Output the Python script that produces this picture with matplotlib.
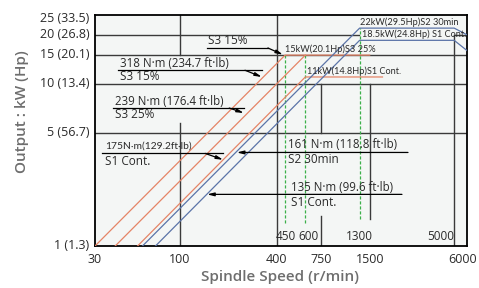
import matplotlib
matplotlib.use("Agg")
import matplotlib.pyplot as plt
import matplotlib.transforms as mtransforms

# axis ticks
x_ticks = [30, 100, 400, 750, 1500, 6000]
x_tick_labels = ["30", "100", "400", "750", "1500", "6000"]
y_ticks = [1, 5, 10, 15, 20, 25]
y_tick_labels = ["1 (1.3)", "5 (56.7)", "10 (13.4)", "15 (20.1)", "20 (26.8)", "25 (33.5)"]

# output curves: spindle speed (r/min) and output (kW)
s3_15_speed = [30, 450, 1500]
s3_15_kw = [1, 15, 15]
s3_25_speed = [40, 600]
s3_25_kw = [1, 15]
s1_small_speed = [55, 600, 1800]
s1_small_kw = [1, 11, 11]
s2_30_speed = [59, 1300, 5000, 6000]
s2_30_kw = [1, 22, 22, 20]
s1_large_speed = [71, 1300, 5000, 6000]
s1_large_kw = [1, 18.5, 18.5, 16]

# base speeds (green dashed)
base_speed = [450, 600, 1300]
base_top_kw = [15, 15, 22]
base_bottom_kw = [1.39, 1.39, 1.47]
inner_speed_labels = ["450", "600", "1300", "5000"]
inner_speed_pos = [455, 625, 1300, 5000]

# power limit labels
power_labels = ["15kW(20.1Hp)S3 25%", "11kW(14.8Hp)S1 Cont.",
                "22kW(29.5Hp)S2 30min", "18.5kW(24.8Hp) S1 Cont."]
power_label_speed = [450, 611, 1307, 1340]
power_label_kw = [16.4, 12.0, 23.9, 20.1]

# torque labels: top line, bottom line
torque_top = ["318 N·m (234.7 ft·lb)", "239 N·m (176.4 ft·lb)", "175N·m(129.2ft·lb)",
              "161 N·m (118.8 ft·lb)", "135 N·m (99.6 ft·lb)"]
torque_bottom = ["S3 15%", "S3 25%", "S1 Cont.", "S2 30min", "S1 Cont."]
torque_text_speed = [43, 40, 34.6, 468, 489]
torque_text_kw = [13.3, 7.78, 4.14, 4.2, 2.28]
torque_bottom_kw = [11.1, 6.44, 3.3, 3.43, 1.85]
sep_kw = [12.1, 7.08, 3.72, 3.77, 2.08]
sep_left = [41.6, 38.7, 33.1, 2589, 2376]
sep_right = [254, 203, 144, 2589, 2376]
tip_speed = [323, 250, 186, 226, 148]
tip_kw = [11.0, 6.6, 3.4, 3.77, 2.08]

ORANGE = "#e58466"
BLUE = "#5b74a8"
GREEN = "#3cb04a"
GRID = "#3a3a3a"
BG = "#f4f6f5"
TXT = "#2a2a2a"
FONT = ["Open Sans", "DejaVu Sans"]
NARROW = ["Lato", "DejaVu Sans"]
ARROW = "-|>,head_length=0.4,head_width=0.1"

plt.rcParams["font.family"] = FONT

fig = plt.figure(figsize=(4.79, 2.88), dpi=100)
ax = fig.add_axes([95 / 479, 42 / 288, 372 / 479, 231 / 288])
ax.set_facecolor(BG)
ax.set_xscale("log")
ax.set_yscale("log")
ax.set_xlim(30, 6000)
ax.set_ylim(1, 26.5)

# grid segments
h_grid = [(5, 30, 6000), (10, 30, 6000), (15, 30, 6000), (20, 30, 1280), (20, 5000, 6000)]
v_grid = [(100, 1, 5.75), (100, 15, 26.5), (400, 1, 26.5), (750, 5, 10), (750, 1, 1.53),
          (1500, 1.47, 10), (5000, 1, 20)]
for y, x0, x1 in h_grid:
    ax.plot([x0, x1], [y, y], color=GRID, lw=1.0, zorder=1)
for x, y0, y1 in v_grid:
    ax.plot([x, x], [y0, y1], color=GRID, lw=1.0, zorder=1)

# output curves
ax.plot(s3_15_speed, s3_15_kw, color=ORANGE, lw=0.9, zorder=3)
ax.plot(s3_25_speed, s3_25_kw, color=ORANGE, lw=0.9, zorder=3)
ax.plot(s1_small_speed, s1_small_kw, color=ORANGE, lw=0.9, zorder=3)
ax.plot(s2_30_speed, s2_30_kw, color=BLUE, lw=0.9, zorder=3)
ax.plot(s1_large_speed, s1_large_kw, color=BLUE, lw=0.9, zorder=3)

ax.vlines(base_speed, base_bottom_kw, base_top_kw, colors=GREEN, lw=0.9,
          linestyles=(0, (2.5, 1.5)), zorder=2)
for i, lab in enumerate(inner_speed_labels):
    ha = "right" if lab == "5000" else "center"
    ax.text(inner_speed_pos[i], 1.137, lab, ha=ha, va="center", fontsize=8.5,
            color=TXT, zorder=4)

for i, lab in enumerate(power_labels):
    ax.text(power_label_speed[i], power_label_kw[i], lab, ha="left", va="center",
            fontsize=6.6, family=NARROW, color=TXT, zorder=4)

# torque labels with leader lines
for i in range(len(torque_top)):
    narrow = i == 2
    ax.text(torque_text_speed[i], torque_text_kw[i], torque_top[i], ha="left",
            va="center", fontsize=7.4 if narrow else 8.3, family=NARROW if narrow else FONT,
            color=TXT, zorder=4)
    ax.text(torque_text_speed[i], torque_bottom_kw[i], torque_bottom[i], ha="left",
            va="center", fontsize=8.5, color=TXT, zorder=4)
    ax.plot([sep_left[i], max(sep_right[i], tip_speed[i])],
            [sep_kw[i], sep_kw[i]], color="black", lw=0.9, zorder=4)
    ax.annotate("", xy=(tip_speed[i], tip_kw[i]), xytext=(sep_right[i], sep_kw[i]),
                arrowprops=dict(arrowstyle=ARROW, color="black", lw=0.9,
                                shrinkA=0, shrinkB=0), zorder=5)

# S3 15% pointer at the 15 kW corner
ax.text(150, 18.4, "S3 15%", ha="left", va="center", fontsize=8.5, color=TXT, zorder=4)
ax.plot([148, 352], [16.6, 16.6], color="black", lw=0.9, zorder=4)
ax.annotate("", xy=(436, 15.1), xytext=(352, 16.6),
            arrowprops=dict(arrowstyle=ARROW, color="black", lw=0.9,
                            shrinkA=0, shrinkB=0), zorder=5)

ax.set_xticks(x_ticks)
ax.set_xticklabels(x_tick_labels)
ax.set_yticks(y_ticks)
ax.set_yticklabels(y_tick_labels)
ax.minorticks_off()
ax.tick_params(length=0, labelsize=9, labelcolor=TXT)
ax.tick_params(axis="x", pad=5)
ax.tick_params(axis="y", pad=4)
last = ax.get_xticklabels()[-1]
last.set_horizontalalignment("right")
last.set_transform(last.get_transform() + mtransforms.ScaledTranslation(10 / 100, 0, fig.dpi_scale_trans))
for lab in ax.get_yticklabels():
    lab.set_transform(lab.get_transform() + mtransforms.ScaledTranslation(0, 2 / 100, fig.dpi_scale_trans))

for s in ax.spines.values():
    s.set_color("black")
    s.set_linewidth(1.3)

fig.text(22 / 479, 1 - 112 / 288, "Output : kW (Hp)", rotation=90, ha="center", va="center",
         fontsize=11, fontweight="semibold", color="#6e6e6e")
fig.text(280 / 479, 1 - 277 / 288, "Spindle Speed (r/min)", ha="center", va="center",
         fontsize=11, fontweight="semibold", color="#6e6e6e")

fig.savefig("out.png", dpi=100)
